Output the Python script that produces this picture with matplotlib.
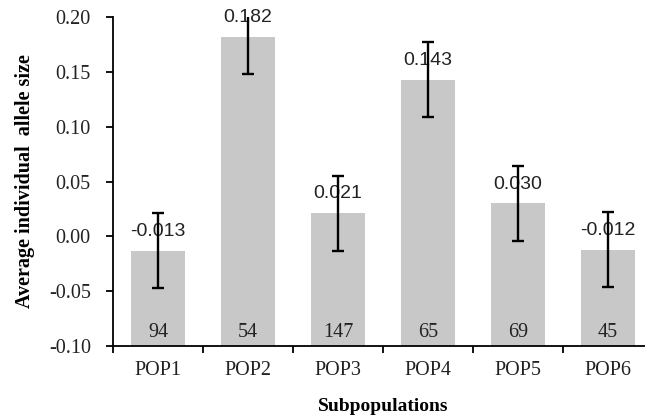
import numpy as np
import matplotlib
matplotlib.use('Agg')
import matplotlib.pyplot as plt
from matplotlib.ticker import FixedLocator

pops = ['POP1', 'POP2', 'POP3', 'POP4', 'POP5', 'POP6']
means = [-0.013, 0.182, 0.021, 0.143, 0.030, -0.012]
errors = [0.034, 0.034, 0.034, 0.034, 0.034, 0.034]
counts = [94, 54, 147, 65, 69, 45]
value_labels = ['-0.013', '0.182', '0.021', '0.143', '0.030', '-0.012']

serif = 'Liberation Serif'
sans = 'Liberation Sans'
ymin, ymax = -0.10, 0.20


def plot_bars(ax):
    x = np.arange(len(pops))
    heights = [m - ymin for m in means]
    ax.bar(x, heights, bottom=ymin, width=0.59, color='#c8c8c8', zorder=1)
    ax.errorbar(x, means, yerr=errors, fmt='none', ecolor='black',
                elinewidth=1.7, capsize=4, capthick=1.7, zorder=3)

    for i in range(len(pops)):
        ax.annotate(value_labels[i], (x[i], means[i]), xytext=(0, 14),
                    textcoords='offset points', ha='center', va='center',
                    fontsize=14, family=sans, color='#222222', zorder=2)
        ax.annotate(str(counts[i]), (x[i], ymin), xytext=(0, 9.5),
                    textcoords='offset points', ha='center', va='center',
                    fontsize=14.5, family=serif, color='#222222', zorder=2)

    ax.set_xlim(-0.5, len(pops) - 0.5)
    ax.set_ylim(ymin, ymax)
    ax.set_xticks(x)
    ax.set_xticklabels(pops, family=serif, fontsize=14.5, color='#222222')
    ax.xaxis.set_minor_locator(FixedLocator(np.arange(len(pops) + 1) - 0.5))
    ax.tick_params(axis='x', which='major', length=0, pad=11)
    ax.tick_params(axis='x', which='minor', length=5, width=1.3, direction='out')

    yt = np.arange(-0.10, 0.201, 0.05)
    ax.set_yticks(yt)
    ax.set_yticklabels(['%.2f' % v for v in yt], family=serif, fontsize=14.5, color='#222222')
    ax.tick_params(axis='y', length=5, width=1.3, pad=11)

    ax.spines['top'].set_visible(False)
    ax.spines['right'].set_visible(False)
    ax.spines['left'].set_linewidth(1.3)
    ax.spines['bottom'].set_linewidth(1.3)

    ax.set_xlabel('Subpopulations', family=serif, fontsize=14, fontweight='bold', labelpad=13)
    ax.set_ylabel('Average individual  allele size', family=serif, fontsize=14.5,
                  fontweight='bold', labelpad=10)


def main():
    fig = plt.figure(figsize=(6.45, 4.18), dpi=100)
    ax = fig.add_axes([0.1752, 0.1722, 0.8372, 0.7871])
    plot_bars(ax)
    fig.savefig('out.png', dpi=100)


if __name__ == '__main__':
    main()
